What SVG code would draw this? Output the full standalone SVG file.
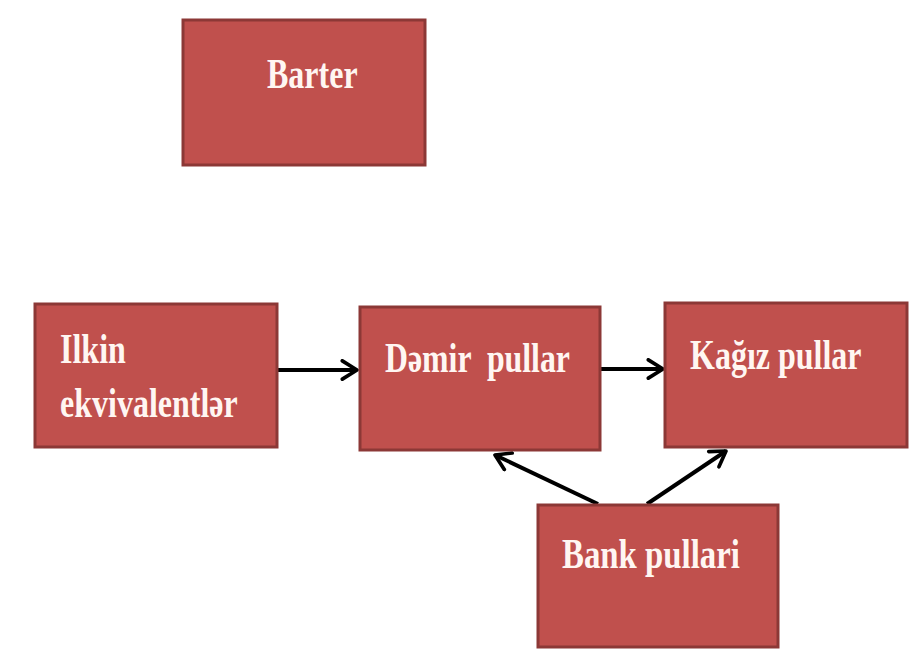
<svg xmlns="http://www.w3.org/2000/svg" width="911" height="655" viewBox="0 0 911 655">
<style>
.box{fill:#C0504D;stroke:#8C3836;stroke-width:3}
.lbl{font-family:"Liberation Serif","Times New Roman",serif;font-weight:bold;font-size:32px;fill:#FFF6F2;white-space:pre}
.conn{stroke:#000;stroke-width:4;fill:none;marker-end:url(#ah)}
</style>
<defs>
<marker id="ah" viewBox="0 0 12 12" refX="10" refY="6" markerWidth="5.5" markerHeight="5.5" markerUnits="strokeWidth" orient="auto">
<path d="M2,1 L10,6 L2,11" fill="none" stroke="#000" stroke-width="2" stroke-linecap="round" stroke-linejoin="round"/>
</marker>
</defs>
<rect width="911" height="655" fill="#fff"/>
<g id="connectors">
<line class="conn" x1="277" y1="370" x2="357" y2="370"/>
<line class="conn" x1="600" y1="369" x2="663" y2="369"/>
<line class="conn" x1="598" y1="504" x2="495" y2="455"/>
<line class="conn" x1="647" y1="504" x2="726" y2="451"/>
</g>
<g id="barter">
<rect class="box" x="183" y="20" width="242" height="145"/>
<text class="lbl" transform="translate(267 88) scale(1 1.3)">Barter</text>
</g>
<g id="ilkin">
<rect class="box" x="35" y="304" width="242" height="143"/>
<text class="lbl" transform="translate(60 363) scale(1 1.3)">Ilkin</text>
<text class="lbl" transform="translate(60 417) scale(1 1.3)">ekvivalentlər</text>
</g>
<g id="demir">
<rect class="box" x="360" y="307" width="240" height="143"/>
<text class="lbl" transform="translate(385 372) scale(1 1.3)" textLength="185" lengthAdjust="spacingAndGlyphs" xml:space="preserve">Dəmir  pullar</text>
</g>
<g id="kagiz">
<rect class="box" x="665" y="303" width="242" height="144"/>
<text class="lbl" transform="translate(690 369) scale(1 1.3)">Kağız pullar</text>
</g>
<g id="bank">
<rect class="box" x="538" y="505" width="240" height="142"/>
<text class="lbl" transform="translate(562 568) scale(1 1.3)" textLength="178" lengthAdjust="spacingAndGlyphs">Bank pullari</text>
</g>
</svg>
